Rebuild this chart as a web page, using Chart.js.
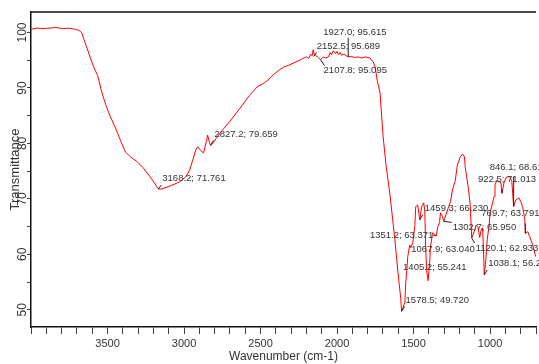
<!DOCTYPE html>
<html>
<head>
<meta charset="utf-8">
<script src="https://cdn.jsdelivr.net/npm/chart.js@4.4.1/dist/chart.umd.min.js"></script>
<style>
  html, body { margin: 0; padding: 0; background: #fff; }
  #irChart { display: block; }
</style>
</head>
<body>
<canvas id="irChart" width="539" height="364"></canvas>
<script>
// FTIR spectrum
const wavenumbers = [
  3996, 3960, 3921, 3882, 3837, 3792, 3753, 3714, 3688, 3669,
  3656, 3623, 3591, 3565, 3532, 3507, 3481, 3448, 3416, 3384,
  3351, 3306, 3267, 3222, 3189, 3168.2, 3144, 3092, 3027, 2988,
  2963, 2943, 2924, 2911, 2891, 2872, 2852, 2846, 2833, 2827.2,
  2814, 2788, 2749, 2703, 2658, 2619, 2574, 2522, 2477, 2444,
  2412, 2380, 2347, 2315, 2269,
  2231, 2212, 2198, 2186, 2172, 2163, 2156, 2148, 2140, 2121,
  2107.8, 2090, 2075, 2056, 2045, 2036, 2024, 2010, 2000, 1991,
  1980, 1972, 1955, 1939, 1927, 1907, 1885, 1861, 1840, 1816,
  1784, 1764, 1751, 1738, 1719, 1700, 1680,
  1654, 1622, 1602, 1583, 1578.5, 1557, 1551, 1544, 1538, 1525,
  1518, 1505, 1492, 1486, 1473, 1459.3, 1447, 1434, 1427, 1421,
  1415, 1405.2, 1395, 1389, 1376, 1363, 1351.2, 1343, 1330, 1324,
  1311, 1302.7, 1278, 1259, 1246, 1227, 1214, 1194, 1181, 1168,
  1162, 1142, 1130, 1120.1, 1104, 1091, 1078, 1067.9, 1058, 1049,
  1043, 1038.1, 1029, 1019, 1006, 1000, 987, 974, 968, 955,
  942, 929, 922.5, 909, 896, 883, 870, 858, 846.1, 832,
  812, 799, 786, 773, 769.7, 754, 741, 722, 702
];
const transmittance = [
  100.6, 100.8, 100.7, 100.8, 100.9, 100.7, 100.8, 100.6, 100.4, 100.0,
  98.9, 96.3, 93.8, 92.3, 88.7, 86.6, 84.8, 82.8, 80.6, 78.5,
  77.6, 76.7, 75.6, 74.0, 72.7, 71.76, 71.8, 72.3, 73.1, 74.0,
  75.2, 77.0, 78.8, 79.4, 78.7, 78.3, 80.6, 81.5, 80.1, 79.66,
  79.9, 81.0, 82.4, 83.9, 85.5, 86.9, 88.6, 90.2, 90.9, 91.6,
  92.5, 93.2, 93.8, 94.1, 94.7,
  95.2, 95.5, 95.6, 95.3, 96.1, 95.8, 96.9, 96.0, 95.9, 95.4,
  95.1, 95.6, 95.4, 95.6, 96.4, 96.0, 96.7, 96.2, 96.6, 96.0,
  96.4, 95.9, 96.1, 95.8, 95.6, 95.7, 95.5, 95.6, 95.4, 95.6,
  95.4, 94.7, 93.8, 91.4, 89.1, 81.5, 76.1,
  70.7, 62.6, 56.8, 51.8, 49.72, 51.3, 54.9, 57.2, 59.6, 61.7,
  61.2, 62.1, 65.0, 68.6, 68.9, 66.23, 68.6, 69.3, 68.0, 61.4,
  57.2, 55.24, 58.5, 61.4, 63.9, 63.5, 63.37, 64.8, 65.9, 67.5,
  66.8, 65.95, 68.0, 69.5, 71.6, 73.4, 76.1, 77.6, 78.1, 77.6,
  75.6, 72.0, 68.9, 62.93, 64.1, 65.3, 64.8, 63.04, 64.4, 64.8,
  60.8, 56.28, 58.6, 62.6, 65.3, 67.5, 68.9, 70.4, 72.5, 73.4,
  73.1, 72.9, 71.01, 72.9, 73.8, 74.0, 74.0, 73.1, 68.62, 69.8,
  70.2, 69.5, 68.4, 66.2, 63.79, 64.1, 63.2, 61.7, 59.6
];

// labelled peaks (wavenumber; %T as printed)
const peakWn = [3168.2, 2827.2, 2152.5, 2107.8, 1927.0, 1578.5, 1405.2, 1351.2,
  1459.3, 1067.9, 1302.7, 1120.1, 1038.1, 769.7, 922.5, 846.1];
const peakT = [71.761, 79.659, 95.689, 95.095, 95.615, 49.720, 55.241, 63.371,
  66.230, 63.040, 65.950, 62.933, 56.28, 63.791, 71.013, 68.618];

const yLabelTicks = [50, 60, 70, 80, 90, 100];

// where each peak label sits relative to its point: [align, dx, dy, leaderX, leaderY]
const labelPlace = [
  ['left', 4, -11, 3, -4], ['left', 4, -11, 3, -5], ['left', 3, -10, 3, -4],
  ['left', 3, 11, 4, 6], ['left', -25, -24, 0, -19], ['left', 4, -11, 3, -5],
  ['left', -25, -13, 0, 0], ['right', -3, 0, -3, 0], ['left', 5, -11, 3, -5],
  ['right', -5, 12, 0, 0], ['left', 9, 6, 8, 1], ['left', 4, 10, 3, 5],
  ['left', 4, -12, 3, -5], ['left', -44, -20, 0, -10], ['left', -24, -14, 0, -4],
  ['left', -24, -39, 0, -30]
];

const narrow = '"Liberation Sans Narrow", "Arial Narrow", "Liberation Sans", sans-serif';

const peakLabels = {
  id: 'peakLabels',
  afterDatasetsDraw(chart) {
    const { ctx, scales: { x, y } } = chart;
    ctx.save();
    ctx.font = '9.5px ' + narrow;
    ctx.fillStyle = '#333';
    ctx.strokeStyle = '#222';
    ctx.lineWidth = 1;
    ctx.textBaseline = 'middle';
    peakWn.forEach((w, i) => {
      const px = x.getPixelForValue(w);
      const py = y.getPixelForValue(peakT[i]);
      const [align, dx, dy, lx, ly] = labelPlace[i];
      if (lx || ly) {
        ctx.beginPath();
        ctx.moveTo(px, py);
        ctx.lineTo(px + lx, py + ly);
        ctx.stroke();
      }
      ctx.textAlign = align;
      ctx.fillText(`${w.toFixed(1)}; ${peakT[i].toFixed(3)}`, px + dx, py + dy);
    });
    ctx.restore();
  }
};

const frameAndYLabels = {
  id: 'frameAndYLabels',
  afterDraw(chart) {
    const { ctx, chartArea, scales: { y } } = chart;
    ctx.save();
    ctx.strokeStyle = '#111';
    ctx.lineWidth = 1.5;
    ctx.beginPath();
    ctx.moveTo(chartArea.left, chartArea.top);
    ctx.lineTo(chartArea.right, chartArea.top);
    ctx.stroke();
    ctx.font = '12px "Liberation Sans", Arial, sans-serif';
    ctx.fillStyle = '#333';
    ctx.textAlign = 'center';
    ctx.textBaseline = 'middle';
    yLabelTicks.forEach((v) => {
      ctx.save();
      ctx.translate(22.5, y.getPixelForValue(v));
      ctx.rotate(-Math.PI / 2);
      ctx.fillText(String(v), 0, 0);
      ctx.restore();
    });
    ctx.restore();
  }
};

new Chart(document.getElementById('irChart'), {
  type: 'scatter',
  data: {
    datasets: [{
      data: wavenumbers.map((w, i) => ({ x: w, y: transmittance[i] })),
      showLine: true,
      borderColor: '#ff0000',
      borderWidth: 1,
      pointRadius: 0,
      tension: 0
    }]
  },
  options: {
    responsive: false,
    animation: false,
    devicePixelRatio: 1,
    layout: { padding: { top: 12, left: 0, right: 0, bottom: 0 } },
    plugins: { legend: { display: false }, tooltip: { enabled: false } },
    scales: {
      x: {
        type: 'linear',
        reverse: true,
        min: 700,
        max: 4000,
        afterFit: (scale) => { scale.height = 37; },
        ticks: {
          stepSize: 100,
          autoSkip: false,
          maxRotation: 0,
          minRotation: 0,
          padding: 3,
          color: '#333',
          font: { family: narrow, size: 11 },
          callback: (v) => (v % 500 === 0 && v < 4000 ? String(v) : '')
        },
        grid: { drawOnChartArea: false, drawTicks: true, tickLength: 7, color: '#444' },
        border: { display: true, color: '#111', width: 1.5 },
        title: {
          display: true,
          text: 'Wavenumber (cm-1)',
          color: '#333',
          font: { family: '"Liberation Sans", Arial, sans-serif', size: 12 },
          padding: { top: 0, bottom: 0 }
        }
      },
      y: {
        type: 'linear',
        min: 46.9,
        max: 103.7,
        afterFit: (scale) => { scale.width = 31; },
        ticks: { stepSize: 5, display: false },
        afterBuildTicks: (scale) => {
          scale.ticks = [50, 55, 60, 65, 70, 75, 80, 85, 90, 95, 100].map((v) => ({ value: v }));
        },
        grid: { drawOnChartArea: false, drawTicks: true, tickLength: 4, color: '#444' },
        border: { display: true, color: '#111', width: 1.5 },
        title: {
          display: true,
          text: 'Transmittance',
          color: '#333',
          font: { family: '"Liberation Sans", Arial, sans-serif', size: 13 },
          padding: { top: 8, bottom: 0 }
        }
      }
    }
  },
  plugins: [peakLabels, frameAndYLabels]
});
</script>
</body>
</html>
